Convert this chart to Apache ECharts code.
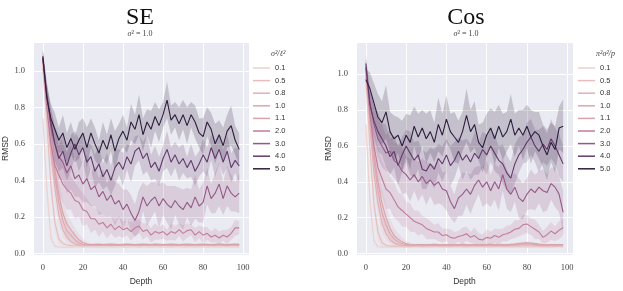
<!DOCTYPE html>
<html>
<head>
<meta charset="utf-8">
<script src="https://cdn.jsdelivr.net/npm/echarts@6/dist/echarts.min.js"></script>
<style>
html, body { margin: 0; padding: 0; background: #fff; }
#chart { width: 623px; height: 291px; }
</style>
</head>
<body>
<div id="chart"></div>
<script>
// depth grid shared by every series
const depth = [0,2,4,6,8,10,12,14,16,18,20,22,24,26,28,30,32,34,36,38,
  40,42,44,46,48,50,52,54,56,58,60,62,64,66,68,70,72,74,76,78,
  80,82,84,86,88,90,92,94,96,98];
const levels = ['0.1','0.5','0.8','1.0','1.1','2.0','3.0','4.0','5.0'];
const levelValues = [0.1,0.5,0.8,1.0,1.1,2.0,3.0,4.0,5.0];
const xTicks = [0,20,40,60,80,100];
const yTicks = [0,0.2,0.4,0.6,0.8,1.0];

// ---- SE kernel: mean RMSD ----
const seM01 = [0.74,0.36,0.09,0.04,0.035,0.034,0.035,0.034,0.035,0.035,
  0.034,0.035,0.035,0.034,0.035,0.034,0.035,0.035,0.034,0.035,
  0.035,0.034,0.035,0.035,0.034,0.035,0.035,0.034,0.035,0.035,
  0.034,0.035,0.034,0.035,0.035,0.034,0.035,0.035,0.034,0.035,
  0.035,0.034,0.035,0.035,0.034,0.035,0.035,0.034,0.035,0.035];
const seM05 = [1.02,0.72,0.38,0.17,0.08,0.055,0.046,0.043,0.042,0.042,
  0.041,0.042,0.042,0.041,0.042,0.043,0.042,0.041,0.042,0.042,
  0.041,0.042,0.043,0.042,0.041,0.042,0.042,0.043,0.042,0.041,
  0.042,0.042,0.041,0.042,0.043,0.042,0.041,0.042,0.042,0.041,
  0.042,0.043,0.042,0.041,0.042,0.042,0.041,0.042,0.042,0.041];
const seM08 = [1.05,0.80,0.56,0.36,0.21,0.13,0.09,0.065,0.052,0.047,
  0.045,0.046,0.044,0.045,0.046,0.044,0.045,0.046,0.045,0.044,
  0.045,0.046,0.045,0.044,0.045,0.046,0.045,0.044,0.046,0.045,
  0.044,0.045,0.046,0.045,0.044,0.045,0.046,0.045,0.044,0.045,
  0.046,0.045,0.044,0.045,0.046,0.045,0.044,0.045,0.046,0.045];
const seM10 = [1.06,0.83,0.60,0.42,0.28,0.18,0.125,0.10,0.075,0.058,
  0.050,0.048,0.047,0.048,0.047,0.048,0.049,0.047,0.048,0.047,
  0.048,0.049,0.048,0.047,0.048,0.047,0.049,0.048,0.047,0.048,
  0.049,0.048,0.047,0.048,0.047,0.049,0.048,0.047,0.048,0.049,
  0.048,0.047,0.048,0.047,0.049,0.048,0.047,0.048,0.049,0.048];
const seM11 = [1.07,0.84,0.63,0.46,0.32,0.22,0.16,0.13,0.10,0.075,
  0.060,0.052,0.049,0.050,0.051,0.049,0.050,0.051,0.050,0.049,
  0.050,0.051,0.050,0.049,0.050,0.051,0.050,0.049,0.051,0.050,
  0.049,0.050,0.051,0.050,0.049,0.050,0.051,0.050,0.049,0.050,
  0.051,0.050,0.049,0.050,0.051,0.050,0.049,0.050,0.051,0.050];
const seM20 = [1.07,0.80,0.60,0.48,0.43,0.38,0.35,0.33,0.29,0.28,
  0.24,0.23,0.19,0.19,0.16,0.17,0.14,0.16,0.13,0.15,
  0.13,0.14,0.12,0.14,0.15,0.12,0.13,0.10,0.12,0.11,
  0.12,0.10,0.12,0.11,0.13,0.11,0.125,0.13,0.10,0.12,
  0.10,0.11,0.09,0.10,0.085,0.10,0.09,0.11,0.14,0.14];
const seM30 = [1.07,0.86,0.70,0.60,0.53,0.50,0.44,0.48,0.41,0.43,
  0.38,0.41,0.35,0.37,0.31,0.34,0.29,0.32,0.27,0.29,
  0.24,0.27,0.22,0.18,0.23,0.31,0.26,0.29,0.31,0.26,
  0.30,0.27,0.25,0.29,0.26,0.24,0.28,0.25,0.31,0.26,
  0.28,0.37,0.30,0.33,0.38,0.30,0.37,0.33,0.31,0.33];
const seM40 = [1.07,0.87,0.72,0.60,0.52,0.56,0.48,0.55,0.60,0.54,
  0.58,0.50,0.53,0.45,0.49,0.42,0.46,0.40,0.47,0.50,
  0.46,0.53,0.49,0.56,0.58,0.52,0.55,0.47,0.50,0.45,
  0.52,0.57,0.50,0.54,0.49,0.52,0.47,0.51,0.45,0.49,
  0.54,0.50,0.58,0.52,0.57,0.50,0.56,0.47,0.51,0.48];
const seM50 = [1.08,0.85,0.74,0.68,0.62,0.66,0.58,0.63,0.57,0.62,
  0.66,0.58,0.66,0.60,0.55,0.62,0.57,0.65,0.56,0.63,
  0.67,0.62,0.72,0.68,0.76,0.65,0.72,0.68,0.75,0.70,
  0.76,0.84,0.73,0.76,0.71,0.76,0.70,0.76,0.72,0.66,
  0.64,0.72,0.68,0.60,0.65,0.59,0.67,0.70,0.62,0.57];

// ---- SE kernel: confidence half-width ----
const seB01 = [0.03,0.06,0.03,0.008,0.003,0.002,0.002,0.002,0.002,0.002,
  0.002,0.002,0.002,0.002,0.002,0.002,0.002,0.002,0.002,0.002,
  0.002,0.002,0.002,0.002,0.002,0.002,0.002,0.002,0.002,0.002,
  0.002,0.002,0.002,0.002,0.002,0.002,0.002,0.002,0.002,0.002,
  0.002,0.002,0.002,0.002,0.002,0.002,0.002,0.002,0.002,0.002];
const seB05 = [0.04,0.08,0.07,0.05,0.03,0.015,0.008,0.005,0.003,0.003,
  0.003,0.003,0.003,0.003,0.003,0.003,0.003,0.003,0.003,0.003,
  0.003,0.003,0.003,0.003,0.003,0.003,0.003,0.003,0.003,0.003,
  0.003,0.003,0.003,0.003,0.003,0.003,0.003,0.003,0.003,0.003,
  0.003,0.003,0.003,0.003,0.003,0.003,0.003,0.003,0.003,0.003];
const seB08 = [0.04,0.08,0.08,0.07,0.06,0.045,0.03,0.02,0.012,0.007,
  0.004,0.003,0.003,0.003,0.003,0.003,0.003,0.003,0.003,0.003,
  0.003,0.003,0.003,0.003,0.003,0.003,0.003,0.003,0.003,0.003,
  0.003,0.003,0.003,0.003,0.003,0.003,0.003,0.003,0.003,0.003,
  0.003,0.003,0.003,0.003,0.003,0.003,0.003,0.003,0.003,0.003];
const seB10 = [0.04,0.08,0.09,0.08,0.07,0.06,0.05,0.035,0.025,0.015,
  0.010,0.006,0.004,0.004,0.004,0.004,0.004,0.004,0.004,0.004,
  0.004,0.004,0.004,0.004,0.004,0.004,0.004,0.004,0.004,0.004,
  0.004,0.004,0.004,0.004,0.004,0.004,0.004,0.004,0.004,0.004,
  0.004,0.004,0.004,0.004,0.004,0.004,0.004,0.004,0.004,0.004];
const seB11 = [0.04,0.08,0.09,0.09,0.08,0.07,0.06,0.05,0.04,0.03,
  0.02,0.012,0.006,0.004,0.004,0.004,0.004,0.004,0.004,0.004,
  0.004,0.004,0.004,0.004,0.004,0.004,0.004,0.004,0.004,0.004,
  0.004,0.004,0.004,0.004,0.004,0.004,0.004,0.004,0.004,0.004,
  0.004,0.004,0.004,0.004,0.004,0.004,0.004,0.004,0.004,0.004];
const seB20 = [0.04,0.07,0.09,0.10,0.11,0.10,0.11,0.09,0.10,0.08,
  0.09,0.07,0.08,0.06,0.07,0.05,0.06,0.05,0.045,0.055,
  0.045,0.04,0.05,0.045,0.035,0.045,0.035,0.04,0.045,0.035,
  0.04,0.03,0.045,0.04,0.035,0.045,0.04,0.03,0.04,0.035,
  0.045,0.035,0.03,0.04,0.035,0.03,0.04,0.035,0.045,0.035];
const seB30 = [0.04,0.07,0.09,0.10,0.12,0.10,0.11,0.13,0.10,0.12,
  0.10,0.13,0.09,0.11,0.10,0.12,0.09,0.11,0.12,0.09,
  0.11,0.08,0.10,0.09,0.12,0.08,0.11,0.10,0.08,0.12,
  0.09,0.10,0.12,0.08,0.10,0.11,0.08,0.10,0.12,0.09,
  0.11,0.10,0.08,0.11,0.12,0.09,0.11,0.10,0.08,0.11];
const seB40 = [0.04,0.07,0.08,0.09,0.07,0.09,0.08,0.10,0.07,0.09,
  0.08,0.10,0.07,0.09,0.10,0.07,0.09,0.08,0.10,0.07,
  0.09,0.07,0.10,0.08,0.07,0.09,0.10,0.07,0.09,0.08,
  0.07,0.10,0.08,0.07,0.09,0.08,0.06,0.09,0.08,0.07,
  0.09,0.08,0.07,0.10,0.08,0.07,0.09,0.08,0.07,0.09];
const seB50 = [0.04,0.07,0.08,0.09,0.07,0.10,0.08,0.09,0.07,0.10,
  0.08,0.11,0.08,0.09,0.07,0.10,0.08,0.09,0.11,0.08,
  0.09,0.07,0.10,0.08,0.11,0.09,0.07,0.10,0.08,0.09,
  0.07,0.10,0.08,0.07,0.09,0.08,0.10,0.07,0.09,0.08,
  0.10,0.08,0.09,0.11,0.08,0.10,0.09,0.11,0.08,0.09];

// ---- Cos kernel: mean RMSD ----
const coM01 = [0.72,0.30,0.07,0.038,0.036,0.036,0.035,0.036,0.036,0.035,
  0.036,0.035,0.036,0.036,0.035,0.036,0.035,0.036,0.036,0.035,
  0.036,0.035,0.036,0.036,0.035,0.036,0.035,0.036,0.036,0.035,
  0.036,0.035,0.036,0.036,0.035,0.036,0.035,0.036,0.036,0.035,
  0.036,0.035,0.036,0.036,0.035,0.036,0.035,0.036,0.036,0.035];
const coM05 = [0.98,0.60,0.28,0.12,0.06,0.046,0.042,0.041,0.041,0.040,
  0.041,0.040,0.041,0.041,0.040,0.041,0.042,0.041,0.040,0.041,
  0.041,0.040,0.041,0.042,0.041,0.040,0.041,0.041,0.040,0.041,
  0.042,0.041,0.040,0.041,0.041,0.040,0.041,0.042,0.041,0.042,
  0.043,0.042,0.041,0.040,0.041,0.041,0.040,0.041,0.041,0.040];
const coM08 = [1.00,0.72,0.45,0.28,0.17,0.11,0.075,0.058,0.050,0.046,
  0.045,0.044,0.045,0.045,0.044,0.045,0.046,0.045,0.044,0.045,
  0.045,0.044,0.045,0.046,0.045,0.044,0.045,0.045,0.044,0.045,
  0.046,0.045,0.044,0.045,0.045,0.044,0.045,0.046,0.047,0.048,
  0.048,0.047,0.046,0.045,0.044,0.045,0.045,0.044,0.045,0.045];
const coM10 = [1.02,0.76,0.52,0.35,0.23,0.16,0.11,0.082,0.065,0.055,
  0.050,0.048,0.047,0.048,0.048,0.047,0.048,0.049,0.048,0.047,
  0.048,0.048,0.047,0.048,0.049,0.048,0.047,0.048,0.048,0.047,
  0.048,0.049,0.048,0.047,0.048,0.048,0.049,0.050,0.052,0.054,
  0.055,0.053,0.051,0.049,0.048,0.047,0.048,0.048,0.047,0.048];
const coM11 = [1.03,0.78,0.56,0.40,0.28,0.20,0.14,0.10,0.080,0.065,
  0.055,0.050,0.049,0.050,0.050,0.049,0.050,0.051,0.050,0.049,
  0.050,0.050,0.049,0.050,0.051,0.050,0.049,0.050,0.050,0.049,
  0.050,0.051,0.050,0.049,0.050,0.050,0.051,0.053,0.056,0.058,
  0.060,0.058,0.055,0.052,0.050,0.049,0.050,0.050,0.049,0.050];
const coM20 = [1.04,0.78,0.60,0.48,0.42,0.36,0.34,0.30,0.26,0.24,
  0.22,0.20,0.18,0.17,0.16,0.14,0.13,0.12,0.12,0.10,
  0.105,0.09,0.085,0.095,0.10,0.11,0.09,0.10,0.08,0.075,
  0.09,0.085,0.10,0.09,0.105,0.11,0.12,0.135,0.14,0.16,
  0.165,0.15,0.135,0.12,0.09,0.105,0.125,0.11,0.13,0.145];
const coM30 = [1.04,0.84,0.72,0.64,0.60,0.56,0.57,0.52,0.50,0.46,
  0.44,0.41,0.44,0.40,0.43,0.39,0.41,0.38,0.40,0.36,
  0.35,0.29,0.25,0.31,0.33,0.36,0.33,0.38,0.41,0.37,
  0.40,0.35,0.40,0.36,0.44,0.36,0.33,0.37,0.31,0.29,
  0.33,0.36,0.34,0.37,0.35,0.34,0.39,0.37,0.33,0.23];
const coM40 = [1.06,0.83,0.74,0.68,0.64,0.60,0.54,0.57,0.49,0.55,
  0.60,0.56,0.52,0.55,0.47,0.46,0.50,0.47,0.53,0.50,
  0.55,0.49,0.52,0.57,0.52,0.55,0.51,0.56,0.53,0.58,
  0.55,0.60,0.56,0.52,0.50,0.45,0.42,0.50,0.55,0.58,
  0.62,0.65,0.60,0.57,0.61,0.58,0.64,0.60,0.55,0.50];
const coM50 = [0.97,0.92,0.84,0.76,0.73,0.79,0.68,0.64,0.66,0.60,
  0.66,0.62,0.71,0.65,0.70,0.64,0.68,0.62,0.72,0.66,
  0.75,0.68,0.65,0.62,0.68,0.77,0.68,0.72,0.62,0.59,
  0.66,0.70,0.64,0.71,0.65,0.68,0.75,0.66,0.70,0.66,
  0.71,0.65,0.68,0.66,0.60,0.55,0.62,0.58,0.70,0.71];

// ---- Cos kernel: confidence half-width ----
const coB01 = [0.03,0.06,0.03,0.006,0.003,0.002,0.002,0.002,0.002,0.002,
  0.002,0.002,0.002,0.002,0.002,0.002,0.002,0.002,0.002,0.002,
  0.002,0.002,0.002,0.002,0.002,0.002,0.002,0.002,0.002,0.002,
  0.002,0.002,0.002,0.002,0.002,0.002,0.002,0.002,0.002,0.002,
  0.002,0.002,0.002,0.002,0.002,0.002,0.002,0.002,0.002,0.002];
const coB05 = [0.04,0.08,0.07,0.05,0.03,0.012,0.006,0.004,0.003,0.003,
  0.003,0.003,0.003,0.003,0.003,0.003,0.003,0.003,0.003,0.003,
  0.003,0.003,0.003,0.003,0.003,0.003,0.003,0.003,0.003,0.003,
  0.003,0.003,0.003,0.003,0.003,0.003,0.003,0.003,0.003,0.003,
  0.003,0.003,0.003,0.003,0.003,0.003,0.003,0.003,0.003,0.003];
const coB08 = [0.04,0.08,0.08,0.07,0.06,0.04,0.025,0.015,0.01,0.006,
  0.004,0.004,0.004,0.004,0.004,0.004,0.004,0.004,0.004,0.004,
  0.004,0.004,0.004,0.004,0.004,0.004,0.004,0.004,0.004,0.004,
  0.004,0.004,0.004,0.004,0.004,0.004,0.004,0.004,0.004,0.004,
  0.004,0.004,0.004,0.004,0.004,0.004,0.004,0.004,0.004,0.004];
const coB10 = [0.04,0.08,0.09,0.08,0.07,0.055,0.04,0.03,0.02,0.012,
  0.008,0.005,0.005,0.005,0.005,0.005,0.005,0.005,0.005,0.005,
  0.005,0.005,0.005,0.005,0.005,0.005,0.005,0.005,0.005,0.005,
  0.005,0.005,0.005,0.005,0.005,0.005,0.005,0.005,0.006,0.006,
  0.006,0.006,0.005,0.005,0.005,0.005,0.005,0.005,0.005,0.005];
const coB11 = [0.04,0.08,0.09,0.09,0.08,0.07,0.055,0.045,0.035,0.025,
  0.015,0.01,0.006,0.005,0.005,0.005,0.005,0.005,0.005,0.005,
  0.005,0.005,0.005,0.005,0.005,0.005,0.005,0.005,0.005,0.005,
  0.005,0.005,0.005,0.005,0.005,0.005,0.006,0.007,0.008,0.008,
  0.008,0.007,0.006,0.005,0.005,0.005,0.005,0.005,0.005,0.005];
const coB20 = [0.05,0.08,0.10,0.11,0.10,0.11,0.09,0.10,0.08,0.09,
  0.07,0.08,0.06,0.07,0.05,0.06,0.05,0.04,0.05,0.04,
  0.035,0.045,0.035,0.03,0.045,0.04,0.03,0.045,0.035,0.03,
  0.045,0.035,0.04,0.045,0.035,0.045,0.04,0.05,0.045,0.055,
  0.05,0.045,0.055,0.04,0.035,0.045,0.05,0.04,0.05,0.045];
const coB30 = [0.05,0.08,0.10,0.11,0.12,0.10,0.12,0.10,0.11,0.13,
  0.10,0.12,0.09,0.11,0.10,0.12,0.09,0.11,0.12,0.09,
  0.11,0.09,0.08,0.10,0.12,0.09,0.11,0.10,0.08,0.11,
  0.12,0.09,0.10,0.12,0.09,0.11,0.10,0.08,0.11,0.10,
  0.09,0.11,0.10,0.09,0.12,0.10,0.09,0.11,0.10,0.12];
const coB40 = [0.05,0.08,0.09,0.11,0.09,0.12,0.10,0.09,0.11,0.10,
  0.09,0.12,0.10,0.08,0.11,0.10,0.09,0.11,0.08,0.10,
  0.09,0.11,0.10,0.08,0.11,0.09,0.10,0.12,0.09,0.10,
  0.11,0.09,0.10,0.08,0.11,0.10,0.09,0.11,0.10,0.08,
  0.11,0.10,0.09,0.12,0.10,0.09,0.11,0.10,0.12,0.10];
const coB50 = [0.06,0.09,0.11,0.13,0.12,0.15,0.11,0.13,0.10,0.14,
  0.12,0.15,0.11,0.13,0.10,0.14,0.12,0.11,0.15,0.12,
  0.13,0.10,0.14,0.12,0.11,0.15,0.12,0.13,0.10,0.14,
  0.12,0.11,0.15,0.12,0.13,0.11,0.14,0.12,0.10,0.14,
  0.12,0.15,0.11,0.13,0.12,0.14,0.11,0.13,0.12,0.15];

const seMeans = [seM01, seM05, seM08, seM10, seM11, seM20, seM30, seM40, seM50];
const seBands = [seB01, seB05, seB08, seB10, seB11, seB20, seB30, seB40, seB50];
const coMeans = [coM01, coM05, coM08, coM10, coM11, coM20, coM30, coM40, coM50];
const coBands = [coB01, coB05, coB08, coB10, coB11, coB20, coB30, coB40, coB50];

// seaborn's default cubehelix ramp for numeric hue (light .85 -> dark .15)
function cubehelix(x) {
  const a = 0.8 * x * (1 - x) / 2;
  const phi = 2 * Math.PI * (0.4 * x);
  const ch = (p0, p1) => Math.round(255 * Math.min(1, Math.max(0, x + a * (p0 * Math.cos(phi) + p1 * Math.sin(phi)))));
  return [ch(-0.14861, 1.78277), ch(-0.29227, -0.90649), ch(1.97294, 0)];
}
function levelColor(v, alpha) {
  const t = (v - levelValues[0]) / (levelValues[levelValues.length - 1] - levelValues[0]);
  const c = cubehelix(0.85 - 0.7 * t);
  return 'rgba(' + c[0] + ',' + c[1] + ',' + c[2] + ',' + alpha + ')';
}

const tickFmt = (list, dec) => (v) => list.some(t => Math.abs(t - v) < 1e-6) ? v.toFixed(dec) : '';
const serif = 'Liberation Serif';
const sans = 'Liberation Sans';

function makeAxes(idx, yMax) {
  const x = {
    type: 'value', gridIndex: idx, min: -4.9, max: 102.9,
    name: 'Depth', nameLocation: 'middle', nameGap: 18,
    nameTextStyle: { fontFamily: sans, fontSize: 8.5, color: '#333' },
    axisLine: { show: false }, axisTick: { show: false },
    axisLabel: { formatter: tickFmt(xTicks, 0), fontFamily: serif, fontSize: 8.5, color: '#444', margin: 8 },
    splitLine: { lineStyle: { color: '#fff', width: 1 } }
  };
  const y = {
    type: 'value', gridIndex: idx, min: -0.009, max: yMax,
    name: 'RMSD', nameLocation: 'middle', nameGap: 23,
    nameTextStyle: { fontFamily: sans, fontSize: 8.5, color: '#333' },
    axisLine: { show: false }, axisTick: { show: false },
    axisLabel: { formatter: tickFmt(yTicks, 1), fontFamily: serif, fontSize: 8.5, color: '#444', margin: 8 },
    splitLine: { lineStyle: { color: '#fff', width: 1 } }
  };
  return [x, y];
}

function bandRender(lo, hi) {
  return function (params, api) {
    if (params.dataIndex !== 0) return null;
    const pts = [];
    for (let i = 0; i < depth.length; i++) pts.push(api.coord([depth[i], hi[i]]));
    for (let i = depth.length - 1; i >= 0; i--) pts.push(api.coord([depth[i], lo[i]]));
    return { type: 'polygon', shape: { points: pts }, style: { fill: api.visual('color') } };
  };
}

function makeSeries(idx, means, bands) {
  const out = [];
  levels.forEach((name, k) => {
    const m = means[k], b = bands[k];
    const lo = m.map((v, i) => v - b[i]);
    const hi = m.map((v, i) => v + b[i]);
    out.push({
      type: 'custom', name: 'band ' + name, xAxisIndex: idx, yAxisIndex: idx,
      silent: true, color: levelColor(levelValues[k], 0.2),
      data: depth.map((d, i) => [d, lo[i], hi[i]]),
      encode: { x: 0, y: [1, 2] },
      renderItem: bandRender(lo, hi)
    });
    out.push({
      type: 'line', name: name, xAxisIndex: idx, yAxisIndex: idx,
      showSymbol: false, symbol: 'none', silent: true,
      color: levelColor(levelValues[k], 1),
      lineStyle: { width: 1.1 },
      data: depth.map((d, i) => [d, m[i]])
    });
  });
  return out;
}

const seAxes = makeAxes(0, 1.158);
const coAxes = makeAxes(1, 1.18);

const legendBase = {
  orient: 'vertical', top: 58, data: levels, icon: 'rect',
  itemWidth: 17, itemHeight: 1.5, itemGap: 2.6, selectedMode: false,
  textStyle: { fontFamily: sans, fontSize: 7.5, lineHeight: 10, color: '#333' }
};

const subStyle = (x) => ({
  type: 'text', x: x, y: 34,
  style: {
    text: '{i|σ}² = 1.0', font: '8px "Liberation Serif"', fill: '#444',
    align: 'center', verticalAlign: 'middle',
    rich: { i: { fontStyle: 'italic', fontFamily: serif, fontSize: 8, fill: '#444' } }
  }
});

const option = {
  animation: false,
  backgroundColor: '#fff',
  grid: [
    { left: 32, top: 42, width: 217, height: 216, show: true, backgroundColor: '#EAEAF2', borderWidth: 0 },
    { left: 356, top: 42, width: 217, height: 216, show: true, backgroundColor: '#EAEAF2', borderWidth: 0 }
  ],
  xAxis: [seAxes[0], coAxes[0]],
  yAxis: [seAxes[1], coAxes[1]],
  legend: [
    Object.assign({}, legendBase, { left: 248 }),
    Object.assign({}, legendBase, { left: 573 })
  ],
  graphic: [
    { type: 'text', x: 140, y: 18, style: { text: 'SE', font: '24px "Liberation Serif"', fill: '#111', align: 'center', verticalAlign: 'middle' } },
    subStyle(140),
    { type: 'text', x: 466, y: 18, style: { text: 'Cos', font: '24px "Liberation Serif"', fill: '#111', align: 'center', verticalAlign: 'middle' } },
    subStyle(466),
    { type: 'text', x: 271, y: 54, style: { text: 'σ²/ℓ²', font: 'italic 8px "Liberation Serif"', fill: '#444', verticalAlign: 'middle' } },
    { type: 'text', x: 596, y: 54, style: { text: 'π²σ²/p', font: 'italic 8px "Liberation Serif"', fill: '#444', verticalAlign: 'middle' } }
  ],
  series: makeSeries(0, seMeans, seBands).concat(makeSeries(1, coMeans, coBands))
};

const chart = echarts.init(document.getElementById('chart'), null, { renderer: 'canvas' });
chart.setOption(option);
</script>
</body>
</html>
